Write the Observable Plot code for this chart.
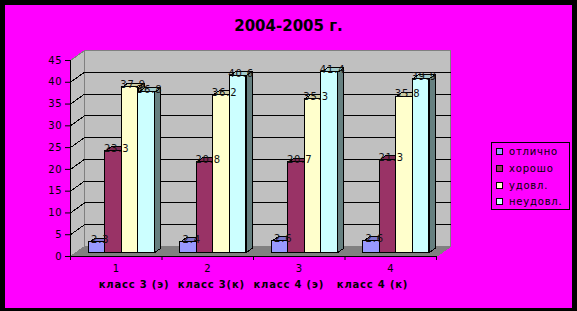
<!DOCTYPE html>
<html>
<head>
<meta charset="utf-8">
<script src="https://cdn.jsdelivr.net/npm/d3@7"></script>
<script src="https://cdn.jsdelivr.net/npm/@observablehq/plot@0.6"></script>
<style>
  body { margin: 0; background: #000; }
  #chart { position: relative; width: 577px; height: 311px; background: #000; overflow: hidden; font-family: "DejaVu Sans", sans-serif; }
  #panel { position: absolute; left: 5px; top: 5px; width: 567px; height: 303px; background: #ff00ff; }
  #title { position: absolute; left: 0; top: 17px; width: 577px; text-align: center; font: bold 15px "DejaVu Sans", sans-serif; line-height: 18px; color: #000; }
  #plot { position: absolute; left: 0; top: 0; }
  #plot text { letter-spacing: 0.8px; }
  #legend { position: absolute; left: 491px; top: 142px; width: 77px; height: 66px; border: 1px solid #000; }
  .item { position: absolute; left: 4px; height: 12px; line-height: 12px; font-size: 10px; letter-spacing: 0.8px; color: #000; white-space: nowrap; }
  .sw { position: absolute; left: 0; top: 2px; width: 5px; height: 5px; border: 1px solid #000; }
  .lbl { position: absolute; left: 13px; top: 0; }
</style>
</head>
<body>
<div id="chart">
  <div id="panel"></div>
  <div id="title"></div>
  <div id="plot"></div>
  <div id="legend"></div>
</div>
<script>
// Results by grade, 2004-2005, per class group (percent)
const categories = ["1", "2", "3", "4"];
const seriesNames = ["отлично", "хорошо", "удовл.", "неудовл."];
const otlichno = [2.3, 2.4, 2.6, 2.6];
const khorosho = [23.3, 20.8, 20.7, 21.3];
const udovl = [37.9, 36.2, 35.3, 35.8];
const neudovl = [36.8, 40.6, 41.4, 39.9];
const seriesColors = ["#9999ff", "#993366", "#ffffcc", "#ccffff"];
const yTicks = [0, 5, 10, 15, 20, 25, 30, 35, 40, 45];
const axisTitle = "класс 3 (э)  класс 3(к)  класс 4 (э)   класс 4 (к)";
const chartTitle = "2004-2005 г.";

const values = [otlichno, khorosho, udovl, neudovl];

// Frame layout
const W = 577, H = 311, ML = 70, MR = 141, MT = 60, MB = 55;
const x0 = 0.5, x1 = categories.length + 0.5;
const yMax = yTicks[yTicks.length - 1];
const unitX = (W - ML - MR) / (x1 - x0);
const unitY = (H - MT - MB) / yMax;

// Oblique projection: full depth moves 14px right and 10px up
const depthX = 14 / unitX, depthY = 10 / unitY;
const P = (x, y, z) => ({x: x + z * depthX, y: y + z * depthY});

// Bars sit between these depths; each bar takes this share of a category
const z0 = 0.4, z1 = 0.83, barW = 0.18;

function shade(c, k) {
  const r = d3.rgb(c);
  return d3.rgb(r.r * k, r.g * k, r.b * k).formatHex();
}

function polygon(id, pts) {
  return pts.concat([pts[0]]).map((p) => ({...p, id}));
}

// Walls and floor
const sideWall = polygon("side", [P(x0, 0, 0), P(x0, yMax, 0), P(x0, yMax, 1), P(x0, 0, 1)]);
const backWall = polygon("back", [P(x0, 0, 1), P(x0, yMax, 1), P(x1, yMax, 1), P(x1, 0, 1)]);
const floor = polygon("floor", [P(x0, 0, 0), P(x1, 0, 0), P(x1, 0, 1), P(x0, 0, 1)]);
const gridLines = yTicks.filter((v) => v > 0 && v < yMax).flatMap((v) =>
  [P(x0, v, 0), P(x0, v, 1), P(x1, v, 1)].map((p) => ({...p, id: v}))
);

// Bar geometry from the values
function barFaces(s) {
  const front = [], side = [], top = [], labels = [];
  values[s].forEach((v, i) => {
    const l = (i + 1) - 2 * barW + s * barW, r = l + barW;
    front.push({x1: P(l, 0, z0).x, x2: P(r, 0, z0).x, y1: P(l, 0, z0).y, y2: P(l, v, z0).y});
    side.push(...polygon(i, [P(r, 0, z0), P(r, v, z0), P(r, v, z1), P(r, 0, z1)]));
    top.push(...polygon(i, [P(l, v, z0), P(r, v, z0), P(r, v, z1), P(l, v, z1)]));
    labels.push({...P((l + r) / 2, v, (z0 + z1) / 2), text: String(v)});
  });
  return {front, side, top, labels};
}

const barMarks = [];
const labelMarks = [];
seriesNames.forEach((name, s) => {
  const f = barFaces(s);
  const c = seriesColors[s];
  barMarks.push(
    Plot.line(f.side, {x: "x", y: "y", z: "id", fill: shade(c, 0.5), stroke: "#000", strokeWidth: 1, curve: "linear", shapeRendering: "crispEdges"}),
    Plot.line(f.top, {x: "x", y: "y", z: "id", fill: shade(c, 0.8), stroke: "#000", strokeWidth: 1, curve: "linear", shapeRendering: "crispEdges"}),
    Plot.rect(f.front, {x1: "x1", x2: "x2", y1: "y1", y2: "y2", fill: c, stroke: "#000", strokeWidth: 1, shapeRendering: "crispEdges"})
  );
  labelMarks.push(
    Plot.text(f.labels, {x: "x", y: "y", text: "text", lineAnchor: "bottom", dy: 3, fill: "#111", fontSize: 10})
  );
});

const plot = Plot.plot({
  width: W,
  height: H,
  marginLeft: ML,
  marginRight: MR,
  marginTop: MT,
  marginBottom: MB,
  x: {domain: [x0, x1]},
  y: {domain: [0, yMax]},
  style: {background: "transparent", fontFamily: "DejaVu Sans, sans-serif", fontSize: "10px", color: "#000", overflow: "visible"},
  marks: [
    Plot.line(sideWall, {x: "x", y: "y", z: "id", fill: "#c0c0c0", stroke: "#808080", strokeWidth: 1, curve: "linear", shapeRendering: "crispEdges"}),
    Plot.line(backWall, {x: "x", y: "y", z: "id", fill: "#c0c0c0", stroke: "#808080", strokeWidth: 1, curve: "linear", shapeRendering: "crispEdges"}),
    Plot.line(floor, {x: "x", y: "y", z: "id", fill: "#808080", stroke: "#808080", strokeWidth: 1, curve: "linear", shapeRendering: "crispEdges"}),
    Plot.line(gridLines, {x: "x", y: "y", z: "id", stroke: "#000", strokeWidth: 1, curve: "linear", shapeRendering: "crispEdges"}),
    ...barMarks,
    ...labelMarks,
    Plot.ruleX([x0], {y1: 0, y2: yMax, stroke: "#000", shapeRendering: "crispEdges"}),
    Plot.ruleY([0], {x1: x0, x2: x1, stroke: "#000", shapeRendering: "crispEdges"}),
    Plot.axisY({ticks: yTicks, tickSize: 5, tickPadding: 3, label: null}),
    Plot.axisX({ticks: d3.range(x0, x1 + 0.01, 1), tickFormat: () => "", tickSize: 4, label: null}),
    Plot.axisX({ticks: categories.map((c, i) => i + 1), tickFormat: (d) => categories[d - 1], tickSize: 0, tickPadding: 8, label: null}),
    Plot.text([axisTitle.replace(/ /g, "\u00a0")], {frameAnchor: "bottom", dy: 31, fontWeight: "bold", fontSize: 10})
  ]
});
document.getElementById("plot").appendChild(plot);
document.getElementById("title").textContent = chartTitle;

// Legend
const legend = document.getElementById("legend");
seriesNames.forEach((name, i) => {
  const item = document.createElement("div");
  item.className = "item";
  item.style.top = (3 + i * 16.8) + "px";
  const sw = document.createElement("span");
  sw.className = "sw";
  sw.style.background = seriesColors[i];
  const lbl = document.createElement("span");
  lbl.className = "lbl";
  lbl.textContent = name;
  item.append(sw, lbl);
  legend.appendChild(item);
});
</script>
</body>
</html>
